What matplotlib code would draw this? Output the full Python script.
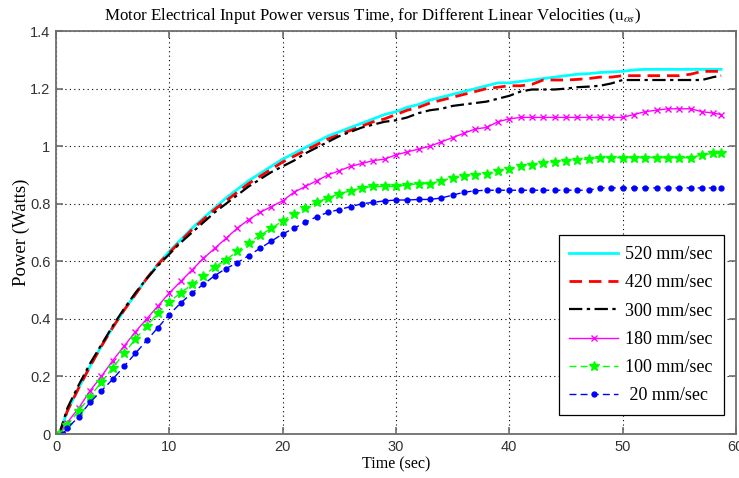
import matplotlib
matplotlib.use("Agg")
import matplotlib.pyplot as plt

# ---- data ----
t = [0.3] + list(range(1, 59)) + [58.7]

p520 = [0.0, 0.08, 0.16, 0.235, 0.305, 0.37, 0.43, 0.485, 0.54, 0.59,
        0.635, 0.675, 0.715, 0.75, 0.785, 0.82, 0.85, 0.88, 0.905, 0.93,
        0.955, 0.975, 0.995, 1.015, 1.035, 1.05, 1.065, 1.08, 1.095, 1.11,
        1.12, 1.135, 1.145, 1.16, 1.17, 1.18, 1.19, 1.20, 1.21, 1.22,
        1.22, 1.225, 1.23, 1.235, 1.24, 1.245, 1.25, 1.252, 1.256, 1.258,
        1.26, 1.265, 1.267, 1.267, 1.267, 1.267, 1.267, 1.267, 1.267, 1.267]

p420 = [0.0, 0.08, 0.16, 0.235, 0.305, 0.37, 0.43, 0.485, 0.54, 0.59,
        0.63, 0.67, 0.71, 0.745, 0.78, 0.81, 0.84, 0.87, 0.895, 0.92,
        0.945, 0.965, 0.985, 1.005, 1.025, 1.04, 1.055, 1.07, 1.085, 1.095,
        1.11, 1.125, 1.135, 1.15, 1.16, 1.17, 1.18, 1.19, 1.20, 1.205,
        1.21, 1.21, 1.215, 1.23, 1.23, 1.23, 1.232, 1.235, 1.24, 1.24,
        1.245, 1.245, 1.245, 1.245, 1.245, 1.245, 1.25, 1.26, 1.26, 1.26]

p300 = [0.0, 0.09, 0.17, 0.245, 0.31, 0.375, 0.435, 0.49, 0.54, 0.585,
        0.625, 0.665, 0.70, 0.735, 0.77, 0.80, 0.83, 0.86, 0.885, 0.91,
        0.93, 0.95, 0.975, 0.995, 1.015, 1.035, 1.05, 1.065, 1.075, 1.085,
        1.09, 1.10, 1.115, 1.125, 1.13, 1.14, 1.145, 1.15, 1.155, 1.165,
        1.175, 1.19, 1.197, 1.197, 1.197, 1.20, 1.205, 1.207, 1.21, 1.218,
        1.23, 1.23, 1.23, 1.23, 1.23, 1.23, 1.23, 1.23, 1.24, 1.245]

p180 = [0.0, 0.04, 0.09, 0.15, 0.20, 0.255, 0.305, 0.355, 0.40, 0.445,
        0.49, 0.53, 0.57, 0.61, 0.645, 0.68, 0.715, 0.745, 0.77, 0.79,
        0.81, 0.84, 0.86, 0.88, 0.90, 0.915, 0.93, 0.94, 0.95, 0.955,
        0.97, 0.98, 0.99, 1.00, 1.015, 1.03, 1.045, 1.06, 1.065, 1.085,
        1.095, 1.10, 1.10, 1.10, 1.10, 1.10, 1.10, 1.10, 1.10, 1.10,
        1.10, 1.11, 1.12, 1.125, 1.13, 1.13, 1.13, 1.12, 1.115, 1.11]

p100 = [0.0, 0.03, 0.08, 0.13, 0.18, 0.23, 0.28, 0.33, 0.375, 0.42,
        0.46, 0.49, 0.52, 0.55, 0.58, 0.605, 0.635, 0.665, 0.69, 0.715,
        0.74, 0.765, 0.785, 0.805, 0.82, 0.835, 0.845, 0.855, 0.86, 0.86,
        0.86, 0.865, 0.87, 0.87, 0.88, 0.89, 0.895, 0.90, 0.905, 0.915,
        0.92, 0.93, 0.935, 0.94, 0.945, 0.95, 0.952, 0.955, 0.96, 0.96,
        0.96, 0.96, 0.96, 0.96, 0.96, 0.96, 0.96, 0.97, 0.975, 0.975]

t20 = [0.6] + list(range(1, 59)) + [58.7]
p20 = [0.0, 0.02, 0.06, 0.11, 0.15, 0.19, 0.235, 0.28, 0.325, 0.37,
       0.415, 0.455, 0.49, 0.52, 0.55, 0.575, 0.595, 0.62, 0.645, 0.67,
       0.695, 0.715, 0.735, 0.755, 0.77, 0.78, 0.79, 0.80, 0.805, 0.81,
       0.813, 0.813, 0.815, 0.815, 0.82, 0.83, 0.84, 0.845, 0.847, 0.847,
       0.847, 0.847, 0.847, 0.847, 0.847, 0.847, 0.847, 0.847, 0.855, 0.855,
       0.855, 0.855, 0.855, 0.855, 0.855, 0.855, 0.855, 0.855, 0.855, 0.855]

labels = ["520 mm/sec", "420 mm/sec", "300 mm/sec", "180 mm/sec", "100 mm/sec", " 20 mm/sec"]
xticks = [0, 10, 20, 30, 40, 50, 60]
yticks = [0, 0.2, 0.4, 0.6, 0.8, 1, 1.2, 1.4]
yticklabels = ["0", "0.2", "0.4", "0.6", "0.8", "1", "1.2", "1.4"]

plt.rcParams["mathtext.fontset"] = "stix"
serif = "Liberation Serif"
sans = "Liberation Sans"

fig = plt.figure(figsize=(7.39, 4.78), dpi=100)
ax = fig.add_axes([0.0758, 0.092, 0.920, 0.843])

ax.plot(t, p520, color="#00ffff", lw=2.0, ls="-", label=labels[0])
ax.plot(t, p420, color="#ff0000", lw=2.0, ls=(0, (4.5, 2.5)), label=labels[1])
ax.plot(t, p300, color="#000000", lw=1.6, ls=(0, (6, 2, 1.5, 2)), label=labels[2])
ax.plot(t, p180, color="#ff00ff", lw=1.0, ls="-", marker="x", ms=5, mew=1.0, label=labels[3])
ax.plot(t, p100, color="#00ff00", lw=1.0, ls=(0, (5, 3)), marker="*", ms=7, mew=1.0, label=labels[4])
ax.plot(t20, p20, color="#0000ff", lw=1.0, ls=(0, (5, 3)), marker=".", ms=7, label=labels[5])

ax.set_xlim(0, 60)
ax.set_ylim(0, 1.4)
ax.set_xticks(xticks)
ax.set_yticks(yticks)
ax.set_yticklabels(yticklabels)
ax.grid(True, ls=(0, (1, 3)), color="black", lw=0.8)
for s in ax.spines.values():
    s.set_color("#6e6e6e")
    s.set_linewidth(1.3)
ax.tick_params(direction="in", top=True, right=True, length=5, width=1.2,
               color="#6e6e6e", labelcolor="#333333", labelsize=10.5, pad=4)
for lab in ax.get_xticklabels() + ax.get_yticklabels():
    lab.set_family(sans)

ax.set_title("Motor Electrical Input Power versus Time, for Different Linear Velocities (u$_{os}$)",
             family=serif, fontsize=12.2, pad=8, x=0.466)
ax.set_xlabel("Time (sec)", family=serif, fontsize=11.5, labelpad=2)
ax.set_ylabel("Power (Watts)", family=serif, fontsize=13.5, labelpad=0)

leg = ax.legend(loc="lower right", bbox_to_anchor=(0.982, 0.047), borderaxespad=0,
                fancybox=False, edgecolor="black", framealpha=1,
                prop={"family": serif, "size": 13},
                handlelength=2.7, labelspacing=0.62, borderpad=0.6, handletextpad=0.4)
leg.get_frame().set_linewidth(0.9)

fig.savefig("out.png", dpi=100)
